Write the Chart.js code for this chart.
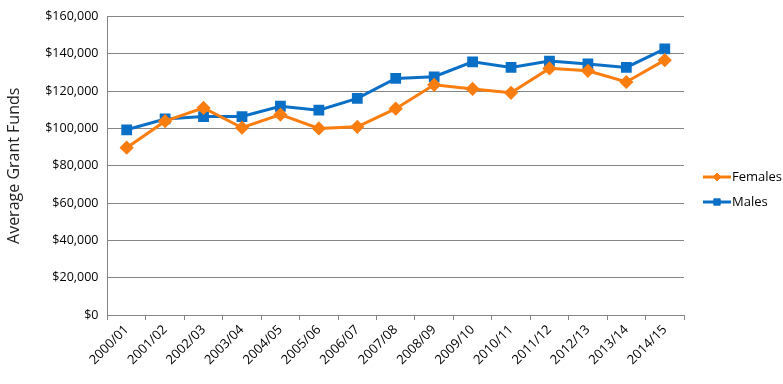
<!DOCTYPE html>
<html>
<head>
<meta charset="utf-8">
<script src="https://cdn.jsdelivr.net/npm/chart.js@4.4.0/dist/chart.umd.min.js"></script>
<style>
    html, body { margin: 0; padding: 0; background: #fff; }
    #wrap { width: 783px; height: 384px; }
</style>
</head>
<body>
<div id="wrap"><canvas id="myChart" width="783" height="384"></canvas></div>
<script>
    var years = ['2000/01', '2001/02', '2002/03', '2003/04', '2004/05', '2005/06', '2006/07', '2007/08',
        '2008/09', '2009/10', '2010/11', '2011/12', '2012/13', '2013/14', '2014/15'];
    var females = [89700, 103900, 111000, 100400, 107400, 100000, 100900, 110600,
        123400, 121200, 119100, 132200, 130900, 124900, 136600];
    var males = [99300, 105100, 106400, 106400, 111900, 109800, 116100, 126800,
        127700, 135700, 132700, 136100, 134600, 132700, 142600];

    var orange = '#FA7D0F';
    var blue = '#0A6FC6';
    var font = "'Open Sans', 'Liberation Sans', sans-serif";

    // legend drawn by hand: line with the marker in the middle, like the original
    var sideLegend = {
        id: 'sideLegend',
        afterDraw: function(chart) {
            var ctx = chart.ctx;
            var items = chart.data.datasets;
            ctx.save();
            for (let i = 0; i < items.length; i++) {
                var ds = items[i];
                var y = 177 + i * 25;
                ctx.strokeStyle = ds.borderColor;
                ctx.fillStyle = ds.borderColor;
                ctx.lineWidth = 3;
                ctx.beginPath();
                ctx.moveTo(703, y);
                ctx.lineTo(731, y);
                ctx.stroke();
                ctx.lineWidth = 1;
                Chart.helpers.drawPoint(ctx, {
                    pointStyle: ds.pointStyle,
                    radius: ds.pointRadius - 1,
                    rotation: 0,
                    borderWidth: 1
                }, 717, y);
                ctx.fillStyle = '#000';
                ctx.font = '13px ' + font;
                ctx.textBaseline = 'middle';
                ctx.fillText(ds.label, 732, y);
            }
            ctx.restore();
        }
    };

    const ctx = document.getElementById('myChart').getContext('2d');
    var myChart = new Chart(ctx, {
        type: 'line',
        data: {
            labels: years,
            datasets: [{
                    label: 'Females',
                    data: females,
                    borderColor: orange,
                    backgroundColor: orange,
                    borderWidth: 3,
                    pointStyle: 'rectRot',
                    pointRadius: 5,
                    pointHoverRadius: 5,
                    tension: 0
                },
                {
                    label: 'Males',
                    data: males,
                    borderColor: blue,
                    backgroundColor: blue,
                    borderWidth: 3,
                    pointStyle: 'rect',
                    pointRadius: 5.5,
                    pointHoverRadius: 5.5,
                    tension: 0
                }
            ]
        },
        options: {
            responsive: false,
            animation: false,
            layout: {
                padding: { left: 5, right: 99, top: 0, bottom: 14 }
            },
            plugins: {
                legend: { display: false },
                tooltip: { enabled: false }
            },
            scales: {
                x: {
                    offset: true,
                    grid: {
                        offset: true,
                        drawOnChartArea: false,
                        drawTicks: true,
                        tickLength: 5,
                        color: '#868686'
                    },
                    border: { color: '#868686', width: 1 },
                    ticks: {
                        color: '#000',
                        font: { family: font, size: 13 },
                        minRotation: 45,
                        maxRotation: 45,
                        padding: 2,
                        autoSkip: false
                    }
                },
                y: {
                    min: 0,
                    max: 160000,
                    grid: {
                        color: '#868686',
                        drawTicks: false
                    },
                    border: { color: '#868686', width: 1 },
                    ticks: {
                        stepSize: 20000,
                        color: '#000',
                        padding: 9,
                        font: { family: font, size: 12.5 },
                        callback: function(v) {
                            return '$' + v.toLocaleString('en-US');
                        }
                    },
                    title: {
                        display: true,
                        text: 'Average Grant Funds',
                        color: '#222',
                        font: { family: font, size: 16 },
                        padding: { top: 0, bottom: 12 }
                    }
                }
            }
        },
        plugins: [sideLegend]
    });
</script>
</body>
</html>
